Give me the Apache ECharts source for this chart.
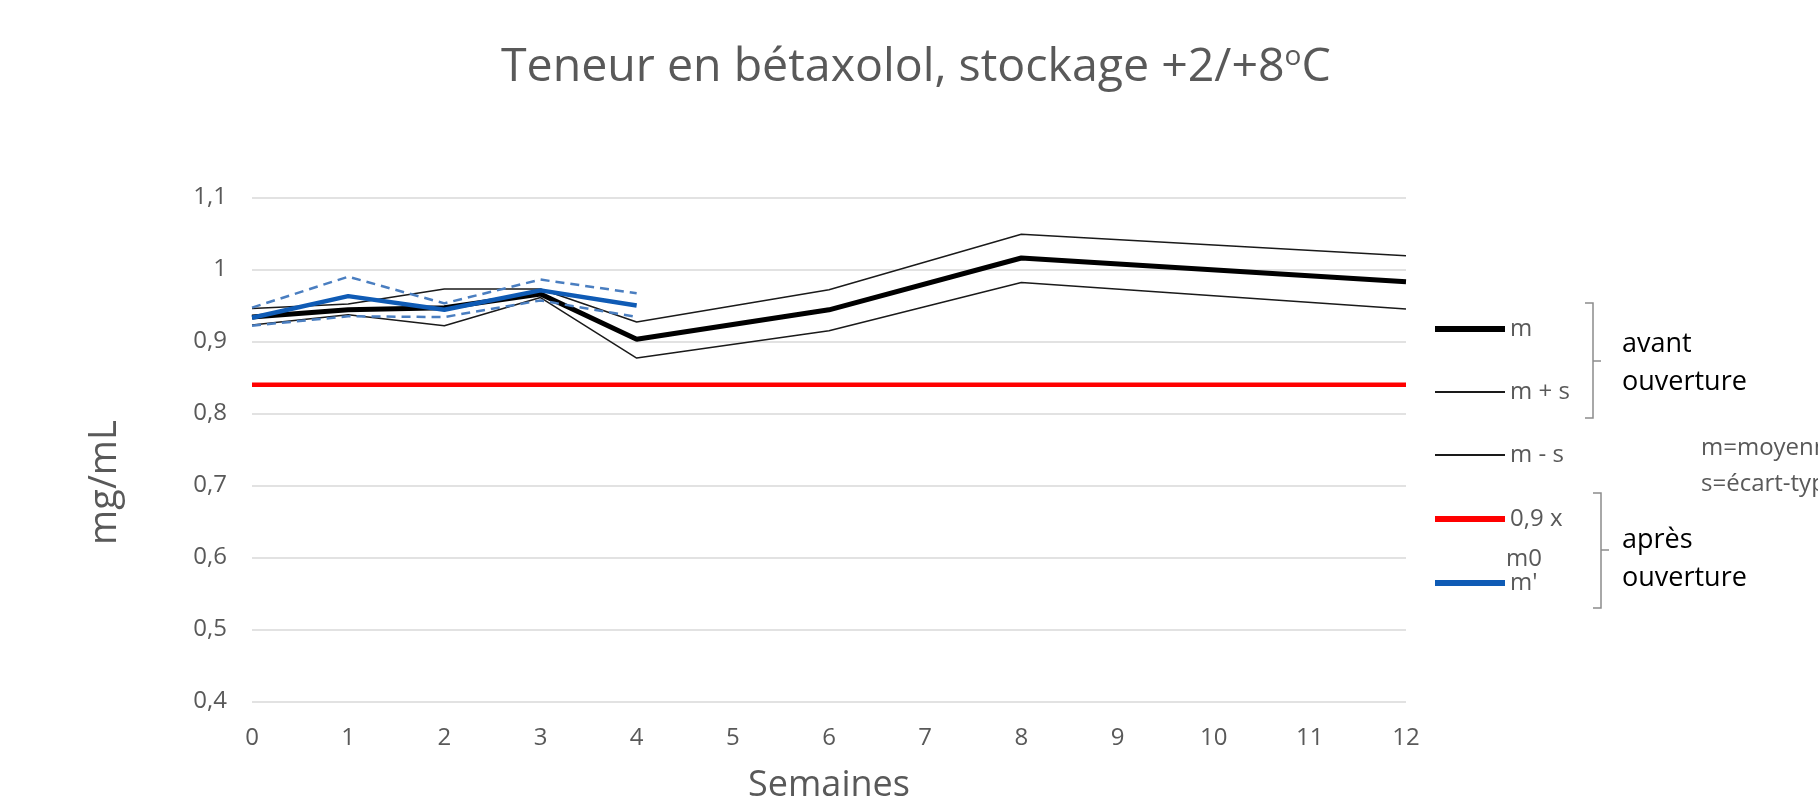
<!DOCTYPE html>
<html>
<head>
<meta charset="utf-8">
<script src="https://cdn.jsdelivr.net/npm/echarts@6/dist/echarts.min.js"></script>
<style>
html,body{margin:0;padding:0;background:#fff;}
#chart{width:1818px;height:801px;}
</style>
</head>
<body>
<div id="chart"></div>
<script>
// ---- data ----
const weeks = [0, 1, 2, 3, 4, 6, 8, 12];
const mMean = [0.934, 0.944, 0.947, 0.966, 0.903, 0.944, 1.016, 0.983];
const mPlusS = [0.946, 0.952, 0.973, 0.973, 0.927, 0.972, 1.049, 1.019];
const mMinusS = [0.923, 0.937, 0.922, 0.961, 0.877, 0.915, 0.982, 0.945];
const limitWeeks = [0, 12];
const limitValues = [0.84, 0.84];
const weeksOpen = [0, 1, 2, 3, 4];
const mOpen = [0.933, 0.963, 0.944, 0.971, 0.950];
const mOpenPlusS = [0.947, 0.990, 0.953, 0.986, 0.967];
const mOpenMinusS = [0.922, 0.935, 0.934, 0.957, 0.934];
const yTicks = [0.4, 0.5, 0.6, 0.7, 0.8, 0.9, 1.0, 1.1];
const xTicks = [0, 1, 2, 3, 4, 5, 6, 7, 8, 9, 10, 11, 12];

const FONT = "'Open Sans', 'Noto Sans', sans-serif";
const GREY = '#595959';
const pairs = (xs, ys) => xs.map((x, i) => [x, ys[i]]);

const chart = echarts.init(document.getElementById('chart'), null, {renderer: 'canvas'});

function legendItem(name, top, color, h, label) {
  return {
    left: 1430, top: top, orient: 'horizontal',
    itemWidth: 70, itemHeight: h, icon: 'rect',
    selectedMode: false,
    textStyle: {color: GREY, fontSize: 24, fontFamily: FONT, padding: [0, 0, 0, 0]},
    formatter: label ? () => label : undefined,
    data: [{name: name, icon: 'rect', itemStyle: {color: color, borderWidth: 0}}]
  };
}

const option = {
  animation: false,
  backgroundColor: '#fff',
  title: {
    text: 'Teneur en bétaxolol, stockage +2/+8{sup|o}C',
    left: 496, top: 38, padding: 5,
    textStyle: {
      color: GREY, fontSize: 46.5, fontWeight: 'normal', fontFamily: FONT,
      rich: {
        sup: {fontSize: 28, color: GREY, fontFamily: FONT, verticalAlign: 'top', padding: [0, 0, 22, 0]}
      }
    }
  },
  grid: {left: 252, right: 412, top: 197.5, bottom: 99.5, containLabel: false, outerBoundsMode: 'none'},
  xAxis: {
    type: 'value', min: 0, max: 12, interval: 1,
    name: 'Semaines', nameLocation: 'middle', nameGap: 66,
    nameTextStyle: {color: GREY, fontSize: 36, fontFamily: FONT},
    axisLine: {show: false}, axisTick: {show: false},
    axisLabel: {color: GREY, fontSize: 24, fontFamily: FONT, margin: 25},
    splitLine: {show: false}
  },
  yAxis: {
    type: 'value', min: 0.4, max: 1.1, interval: 0.1,
    name: 'mg/mL', nameLocation: 'middle', nameGap: 128, nameRotate: 90,
    nameTextStyle: {color: GREY, fontSize: 38, fontFamily: FONT, padding: [0, 66, 0, 0]},
    axisLine: {show: false}, axisTick: {show: false},
    axisLabel: {
      color: GREY, fontSize: 24, fontFamily: FONT, margin: 25,
      formatter: v => String(Math.round(v * 10) / 10).replace('.', ',')
    },
    splitLine: {lineStyle: {color: '#d9d9d9', width: 1.5}}
  },
  legend: [
    legendItem('m', 312, '#000000', 6),
    legendItem('m + s', 375, '#1a1a1a', 2),
    legendItem('m - s', 438, '#1a1a1a', 2),
    legendItem('0,9 x m0', 502, '#ff0000', 6, '0,9 x'),
    legendItem("m'", 566, '#0f5bb5', 6)
  ],
  graphic: [
    {type: 'text', left: 1506, top: 547, style: {text: 'm0', fill: GREY, fontSize: 24, fontFamily: FONT}},
    {type: 'polyline', shape: {points: [[1585, 303], [1593, 303], [1593, 418], [1585, 418]]}, style: {stroke: '#8c8c8c', lineWidth: 1.5, fill: null}},
    {type: 'line', shape: {x1: 1593, y1: 361, x2: 1601, y2: 361}, style: {stroke: '#8c8c8c', lineWidth: 1.5}},
    {type: 'polyline', shape: {points: [[1593, 493], [1601, 493], [1601, 608], [1593, 608]]}, style: {stroke: '#8c8c8c', lineWidth: 1.5, fill: null}},
    {type: 'line', shape: {x1: 1601, y1: 550, x2: 1609, y2: 550}, style: {stroke: '#8c8c8c', lineWidth: 1.5}},
    {type: 'text', left: 1622, top: 325, style: {text: 'avant\nouverture', fill: '#000', fontSize: 27, lineHeight: 38, fontFamily: FONT}},
    {type: 'text', left: 1622, top: 521, style: {text: 'après\nouverture', fill: '#000', fontSize: 27, lineHeight: 38, fontFamily: FONT}},
    {type: 'text', left: 1701, top: 430, style: {text: 'm=moyenne\ns=écart-type', fill: GREY, fontSize: 24, lineHeight: 36, fontFamily: FONT}}
  ],
  series: [
    {name: 'm + s', type: 'line', data: pairs(weeks, mPlusS), symbol: 'none', lineStyle: {color: '#1a1a1a', width: 1.5}, itemStyle: {color: '#1a1a1a'}},
    {name: 'm - s', type: 'line', data: pairs(weeks, mMinusS), symbol: 'none', lineStyle: {color: '#1a1a1a', width: 1.5}, itemStyle: {color: '#1a1a1a'}},
    {name: 'm', type: 'line', data: pairs(weeks, mMean), symbol: 'none', lineStyle: {color: '#000000', width: 5}, itemStyle: {color: '#000'}},
    {name: '0,9 x m0', type: 'line', data: pairs(limitWeeks, limitValues), symbol: 'none', lineStyle: {color: '#ff0000', width: 4.5}, itemStyle: {color: '#ff0000'}},
    {name: "m' + s'", type: 'line', data: pairs(weeksOpen, mOpenPlusS), symbol: 'none', lineStyle: {color: '#4a7ec0', width: 2.5, type: [9, 6]}, itemStyle: {color: '#4a7ec0'}},
    {name: "m' - s'", type: 'line', data: pairs(weeksOpen, mOpenMinusS), symbol: 'none', lineStyle: {color: '#4a7ec0', width: 2.5, type: [9, 6]}, itemStyle: {color: '#4a7ec0'}},
    {name: "m'", type: 'line', data: pairs(weeksOpen, mOpen), symbol: 'none', lineStyle: {color: '#0f5bb5', width: 4.5}, itemStyle: {color: '#0f5bb5'}}
  ]
};
chart.setOption(option);
</script>
</body>
</html>
